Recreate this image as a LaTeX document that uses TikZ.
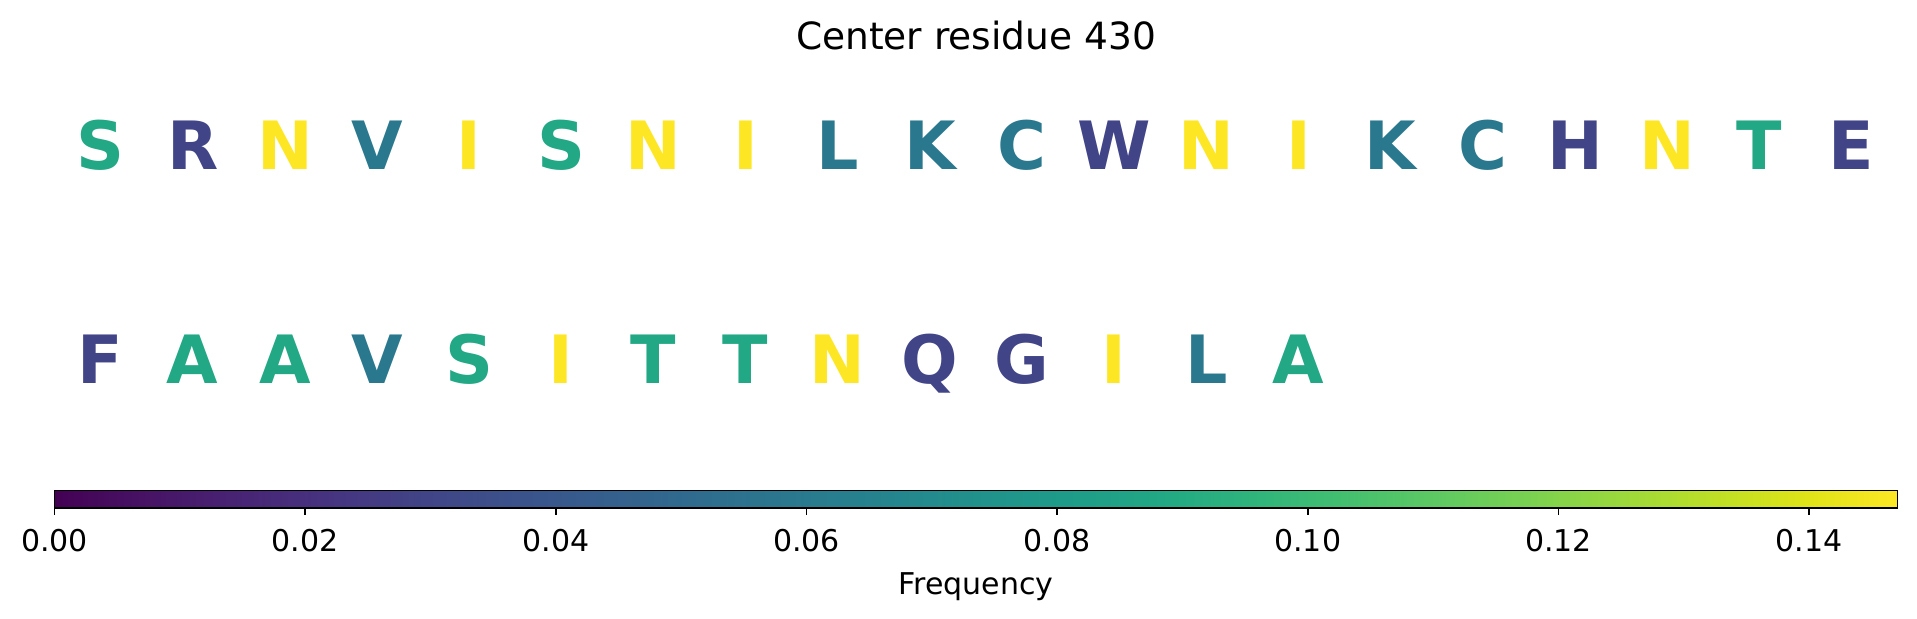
\documentclass[tikz,border=0pt]{standalone}
\usepackage{fontspec}
\setmainfont{DejaVu Sans}
\definecolor{cp}{HTML}{414487}
\definecolor{ct}{HTML}{2A788E}
\definecolor{cg}{HTML}{22A884}
\definecolor{cy}{HTML}{FDE725}
\definecolor{v00}{HTML}{440154}
\definecolor{v01}{HTML}{471365}
\definecolor{v02}{HTML}{482475}
\definecolor{v03}{HTML}{463480}
\definecolor{v04}{HTML}{414487}
\definecolor{v05}{HTML}{3B528B}
\definecolor{v06}{HTML}{355F8D}
\definecolor{v07}{HTML}{2F6C8E}
\definecolor{v08}{HTML}{2A788E}
\definecolor{v09}{HTML}{25848E}
\definecolor{v10}{HTML}{21918C}
\definecolor{v11}{HTML}{1E9C89}
\definecolor{v12}{HTML}{22A884}
\definecolor{v13}{HTML}{2FB47C}
\definecolor{v14}{HTML}{44BF70}
\definecolor{v15}{HTML}{5EC962}
\definecolor{v16}{HTML}{7AD151}
\definecolor{v17}{HTML}{9BD93C}
\definecolor{v18}{HTML}{BDDF26}
\definecolor{v19}{HTML}{DFE318}
\definecolor{v20}{HTML}{FDE725}
\pgfdeclarehorizontalshading{viridis}{100bp}{color(0bp)=(v00); color(25bp)=(v00); color(27.5bp)=(v01); color(30bp)=(v02); color(32.5bp)=(v03); color(35bp)=(v04); color(37.5bp)=(v05); color(40bp)=(v06); color(42.5bp)=(v07); color(45bp)=(v08); color(47.5bp)=(v09); color(50bp)=(v10); color(52.5bp)=(v11); color(55bp)=(v12); color(57.5bp)=(v13); color(60bp)=(v14); color(62.5bp)=(v15); color(65bp)=(v16); color(67.5bp)=(v17); color(70bp)=(v18); color(72.5bp)=(v19); color(75bp)=(v20); color(100bp)=(v20)}
\begin{document}
\begin{tikzpicture}[x=0.5pt,y=-0.5pt,
  titlefont/.style={font=\fontsize{18.75pt}{22pt}\selectfont, anchor=base, inner sep=0pt},
  ticklabel/.style={font=\fontsize{15pt}{18pt}\selectfont, anchor=base, inner sep=0pt},
  res/.style={font=\fontsize{33.3pt}{40pt}\selectfont\bfseries, anchor=base, inner sep=0pt},
  cbframe/.style={draw=black, line width=0.83pt},
  tickmark/.style={draw=black, line width=0.83pt}]
\useasboundingbox (0,0) rectangle (1917,619);
\node[titlefont] (title) at (976,50) {Center residue 430};
\foreach \l/\c [count=\i from 0] in {S/g,R/p,N/y,V/t,I/y,S/g,N/y,I/y,L/t,K/t,C/t,W/p,N/y,I/y,K/t,C/t,H/p,N/y,T/g,E/p}
  \node[res, text=c\c] (ra\i) at ({54.5+92.15*(\i+0.5)},170) {\l};
\foreach \l/\c [count=\i from 0] in {F/p,A/g,A/g,V/t,S/g,I/y,T/g,T/g,N/y,Q/p,G/p,I/y,L/t,A/g}
  \node[res, text=c\c] (rb\i) at ({54.5+92.15*(\i+0.5)},384) {\l};
\coordinate (cbl) at (54.5,490.5);
\coordinate (cbr) at (1897.5,508);
\shade[shading=viridis] (cbl) rectangle (cbr);
\draw[cbframe] (cbl) rectangle (cbr);
\foreach \v/\t [count=\k] in {0/0.00,2/0.02,4/0.04,6/0.06,8/0.08,10/0.10,12/0.12,14/0.14}{
  \coordinate (tk\k) at ({54.5+125.324*\v},508);
  \draw[tickmark] (tk\k) -- ++(0,7.5);
  \node[ticklabel] (tl\k) at ({54.5+125.324*\v},551.7) {\t};
}
\node[ticklabel] (cblabel) at (976,595) {Frequency};
\end{tikzpicture}
\end{document}
